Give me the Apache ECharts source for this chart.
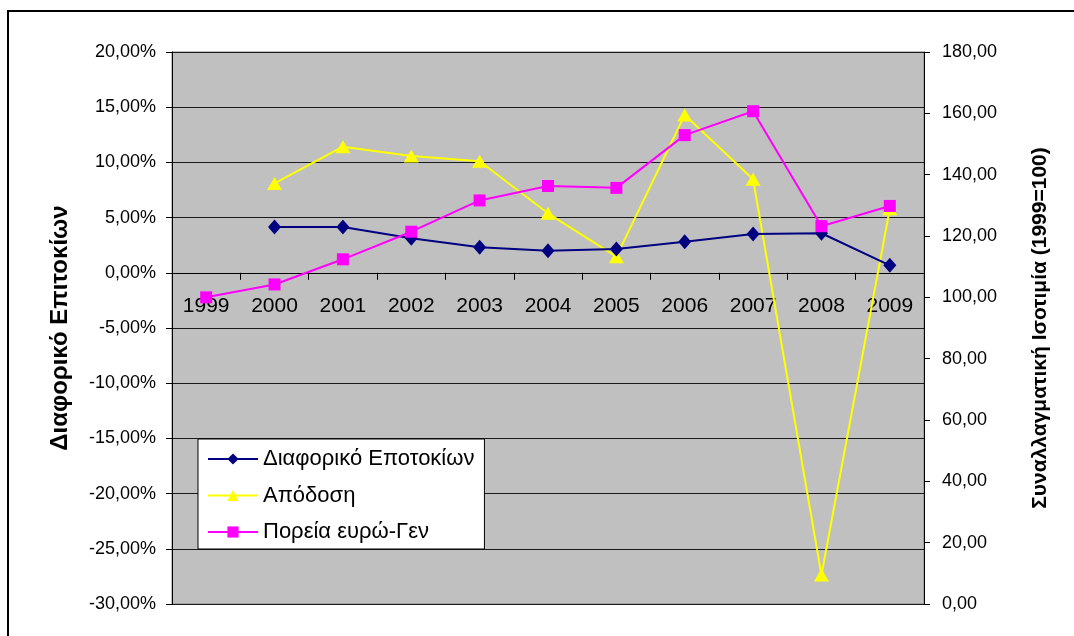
<!DOCTYPE html>
<html>
<head>
<meta charset="utf-8">
<script src="https://cdn.jsdelivr.net/npm/echarts@6/dist/echarts.min.js"></script>
<style>
  html, body { margin: 0; padding: 0; background: #fff; }
  #chart { width: 1074px; height: 636px; }
</style>
</head>
<body>
<div id="chart"></div>
<script>
// Years on the category axis
const years = ['1999', '2000', '2001', '2002', '2003', '2004', '2005', '2006', '2007', '2008', '2009'];

// Interest rate differential (%), left axis
const rateDiff = [null, 4.15, 4.15, 3.12, 2.31, 2.0, 2.16, 2.82, 3.51, 3.58, 0.68];

// Return (%), left axis
const returns = [null, 8.1, 11.42, 10.58, 10.1, 5.39, 1.46, 14.29, 8.47, -27.37, 5.8];

// EUR-JPY exchange rate index (1999=100), right axis
const eurJpy = [100, 104.2, 112.4, 121.4, 131.6, 136.3, 135.7, 152.9, 160.7, 123.2, 129.8];

// Axis ranges and tick steps
const leftMin = -30, leftMax = 20, leftStep = 5;
const rightMin = 0, rightMax = 180, rightStep = 20;

const FONT = '"Liberation Sans", Arial, sans-serif';

// Plot rectangle inside the canvas
const GRID = { left: 172, top: 52, right: 150, bottom: 32 };
const plotHeight = 636 - GRID.top - GRID.bottom;
// The category axis sits on the 0% line of the left axis
const zeroFromBottom = plotHeight * (0 - leftMin) / (leftMax - leftMin);

const chart = echarts.init(document.getElementById('chart'), null, { renderer: 'canvas' });

const pct = v => v.toFixed(2).replace('.', ',') + '%';
const num = v => v.toFixed(2).replace('.', ',');

chart.setOption({
  animation: false,
  backgroundColor: '#ffffff',
  textStyle: { fontFamily: FONT },
  graphic: [{
    type: 'rect',
    shape: { x: 8, y: 11, width: 1100, height: 700 },
    style: { fill: 'none', stroke: '#000', lineWidth: 2 },
    silent: true,
    z: 100
  }],
  grid: {
    left: GRID.left, top: GRID.top, right: GRID.right, bottom: GRID.bottom,
    show: true,
    backgroundColor: '#c0c0c0',
    borderColor: '#808080',
    borderWidth: 1
  },
  legend: {
    orient: 'vertical',
    left: 198, top: 439,
    backgroundColor: '#ffffff',
    borderColor: '#000000',
    borderWidth: 1,
    padding: [8, 10, 5, 9],
    itemWidth: 50,
    itemHeight: 14,
    itemGap: 12.5,
    textStyle: { fontFamily: FONT, fontSize: 22, color: '#000', lineHeight: 24 },
    data: ['Διαφορικό Εποτοκίων', 'Απόδοση', 'Πορεία ευρώ-Γεν']
  },
  xAxis: {
    type: 'category',
    data: years,
    boundaryGap: true,
    position: 'bottom',
    offset: -zeroFromBottom,
    axisLine: { onZero: false, lineStyle: { color: '#000', width: 1 } },
    axisTick: { show: true, length: 7, lineStyle: { color: '#000' } },
    axisLabel: { fontFamily: FONT, fontSize: 21, color: '#000', margin: 23 },
    splitLine: { show: false }
  },
  yAxis: [{
    type: 'value',
    position: 'left',
    min: leftMin, max: leftMax, interval: leftStep,
    name: 'Διαφορικό Επιτοκίων',
    nameLocation: 'middle',
    nameRotate: 90,
    nameGap: 100,
    nameTextStyle: { fontFamily: FONT, fontSize: 24, fontWeight: 'bold', color: '#000' },
    axisLine: { show: true, lineStyle: { color: '#000' } },
    axisTick: { show: true, length: 6, lineStyle: { color: '#000' } },
    axisLabel: { fontFamily: FONT, fontSize: 18, color: '#000', margin: 16, formatter: pct },
    splitLine: { show: true, lineStyle: { color: '#1a1a1a', width: 1 } }
  }, {
    type: 'value',
    position: 'right',
    min: rightMin, max: rightMax, interval: rightStep,
    name: 'Συναλλαγματική Ισοτιμία (1999=100)',
    nameLocation: 'middle',
    nameRotate: 90,
    nameGap: 106,
    nameTextStyle: { fontFamily: FONT, fontSize: 21, fontWeight: 'bold', color: '#000' },
    axisLine: { show: true, lineStyle: { color: '#000' } },
    axisTick: { show: true, length: 6, lineStyle: { color: '#000' } },
    axisLabel: { fontFamily: FONT, fontSize: 18, color: '#000', margin: 18, formatter: num },
    splitLine: { show: false }
  }],
  series: [{
    name: 'Διαφορικό Εποτοκίων',
    type: 'line',
    yAxisIndex: 0,
    data: rateDiff,
    symbol: 'diamond',
    symbolSize: [13, 15],
    lineStyle: { color: '#000080', width: 2 },
    itemStyle: { color: '#000080' },
    z: 3
  }, {
    name: 'Απόδοση',
    type: 'line',
    yAxisIndex: 0,
    data: returns,
    symbol: 'triangle',
    symbolSize: [15, 13],
    lineStyle: { color: '#ffff00', width: 2 },
    itemStyle: { color: '#ffff00' },
    z: 2
  }, {
    name: 'Πορεία ευρώ-Γεν',
    type: 'line',
    yAxisIndex: 1,
    data: eurJpy,
    symbol: 'rect',
    symbolSize: 12,
    lineStyle: { color: '#ff00ff', width: 2 },
    itemStyle: { color: '#ff00ff' },
    z: 4
  }]
});
</script>
</body>
</html>
